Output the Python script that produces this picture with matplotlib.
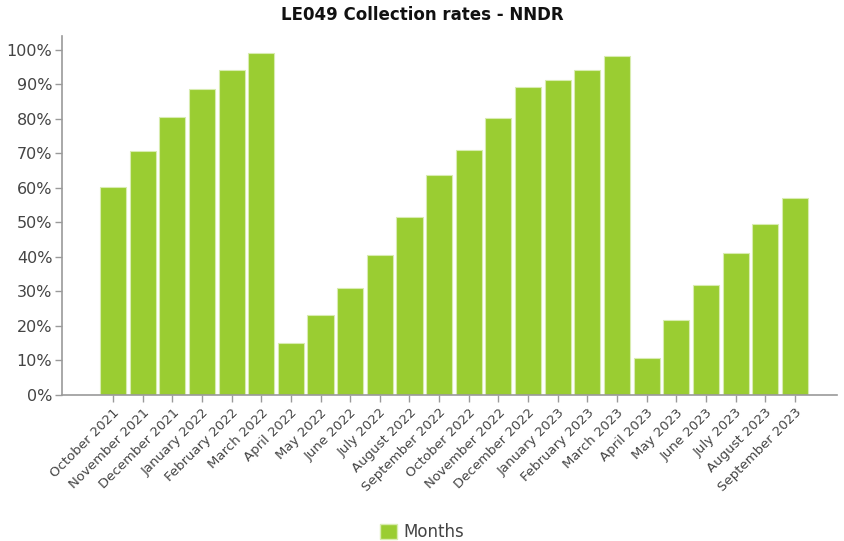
import matplotlib
matplotlib.use("Agg")
import matplotlib.pyplot as plt
from matplotlib.ticker import FuncFormatter, MultipleLocator
from matplotlib.patches import Patch

months = [
    "October 2021", "November 2021", "December 2021", "January 2022",
    "February 2022", "March 2022", "April 2022", "May 2022", "June 2022",
    "July 2022", "August 2022", "September 2022", "October 2022",
    "November 2022", "December 2022", "January 2023", "February 2023",
    "March 2023", "April 2023", "May 2023", "June 2023", "July 2023",
    "August 2023", "September 2023",
]
rates = [
    60.3, 70.7, 80.6, 88.7, 94.2, 99.1, 15.1, 23.2, 31.0, 40.6, 51.6, 63.8,
    71.0, 80.3, 89.3, 91.3, 94.2, 98.3, 10.7, 21.7, 31.9, 41.2, 49.6, 57.1,
]

bar_color = "#9ACD32"
axis_color = "#9a9a9a"
text_color = "#444444"

fig = plt.figure(figsize=(8.45, 5.41), dpi=100)
ax = fig.add_axes([0.0734, 0.270, 0.9171, 0.6635])

x = list(range(len(months)))
ax.bar(x, rates, width=0.88, color=bar_color, edgecolor="#d8ecb0", linewidth=0.8)

ax.set_xlim(-1.72, len(months) - 1 + 1.42)
ax.set_ylim(0, 104)
ax.yaxis.set_major_locator(MultipleLocator(10))
ax.yaxis.set_major_formatter(FuncFormatter(lambda v, _: f"{v:.0f}%"))

ax.set_xticks(x)
ax.set_xticklabels(months, rotation=45, ha="right", rotation_mode="anchor",
                   fontsize=9.5, color=text_color)
for lbl in ax.get_yticklabels():
    lbl.set_fontsize(11.5)
    lbl.set_color(text_color)

for side in ("top", "right"):
    ax.spines[side].set_visible(False)
for side in ("left", "bottom"):
    ax.spines[side].set_color(axis_color)
    ax.spines[side].set_linewidth(1.2)
ax.tick_params(axis="both", color=axis_color, length=5, width=1)
ax.tick_params(axis="x", pad=3)
ax.tick_params(axis="y", pad=2)

fig.text(0.5, 0.972, "LE049 Collection rates - NNDR", ha="center", va="center",
         fontsize=12, fontweight="bold", color="#111111")

handle = Patch(facecolor=bar_color, edgecolor="#d8ecb0", label="Months")
fig.legend(handles=[handle], loc="center", bbox_to_anchor=(0.5, 0.017),
           frameon=False, fontsize=12, handlelength=1.0, handleheight=1.0,
           handletextpad=0.4, labelcolor=text_color)

fig.savefig("out.png", dpi=100)
